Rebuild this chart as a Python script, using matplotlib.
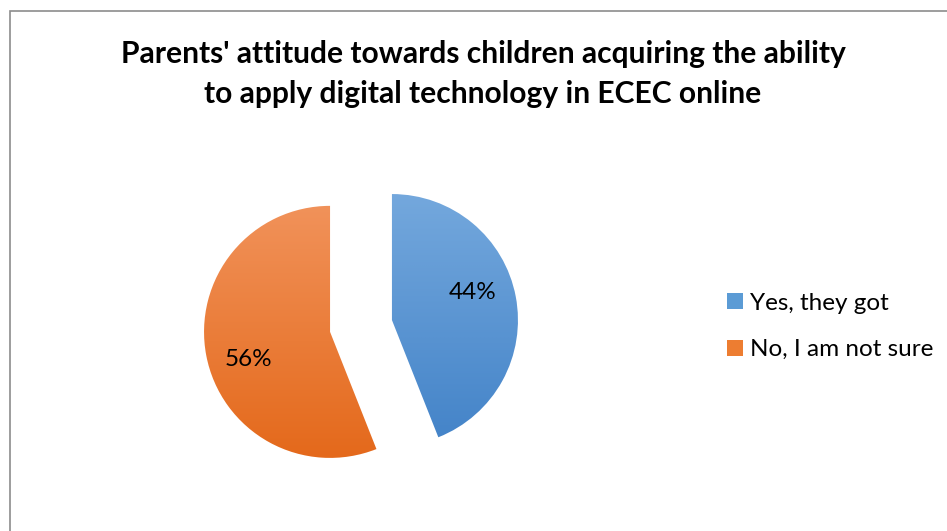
import numpy as np
import matplotlib
matplotlib.use("Agg")
import matplotlib.pyplot as plt
from matplotlib.patches import Rectangle, Patch
from matplotlib.colors import LinearSegmentedColormap

# survey answers
labels = ["Yes, they got", "No, I am not sure"]
shares = [44, 56]
top_colors = ["#74a8dd", "#f1925a"]
bottom_colors = ["#4383c8", "#e4691b"]
legend_colors = ["#5b9bd5", "#ed7d31"]

title = ("Parents' attitude towards children acquiring the ability\n"
         "to apply digital technology in ECEC online")

plt.rcParams['font.family'] = ['Lato', 'DejaVu Sans']

fig = plt.figure(figsize=(9.47, 5.31), dpi=100)

# chart frame
fig.patches.append(Rectangle((9.5 / 947, -0.05), 1.0, 1.05 - 10.5 / 531,
                             transform=fig.transFigure, fill=False,
                             edgecolor="#8c8c8c", linewidth=1.2))

fig.text(0.51, 0.86, title, ha="center", va="center", fontsize=21.6,
         fontweight="bold", linespacing=1.53)

ax = fig.add_axes([0.1816, 0.0301, 0.3992, 0.712])
wedges, texts, autotexts = ax.pie(
    shares, startangle=90, counterclock=False, explode=[0.25, 0.25],
    autopct="%1.0f%%", textprops=dict(fontsize=17.5, color="black"),
    wedgeprops=dict(linewidth=0))
ax.set_aspect("equal")
ax.axis("off")

# vertical gradient fill for each slice, percent labels turned a little off mid-angle
grad = np.linspace(1, 0, 256).reshape(-1, 1)
for w, t, c0, c1 in zip(wedges, autotexts, top_colors, bottom_colors):
    w.set_facecolor("none")
    cx, cy = w.center
    cmap = LinearSegmentedColormap.from_list("g", [c1, c0])
    im = ax.imshow(grad, cmap=cmap, aspect="auto", interpolation="bilinear",
                   extent=[cx - 1, cx + 1, cy - 1, cy + 1], zorder=0.5)
    im.set_clip_path(w)
    ang = np.deg2rad((w.theta1 + w.theta2) / 2 + 8)
    t.set_position((cx + 0.68 * np.cos(ang), cy + 0.68 * np.sin(ang)))
ax.set_xlim(-1.5, 1.5)
ax.set_ylim(-1.5, 1.5)

handles = [Patch(facecolor=c, edgecolor="none") for c in legend_colors]
fig.legend(handles, labels, loc="center left", bbox_to_anchor=(0.745, 0.385),
           frameon=False, fontsize=17.5, handlelength=0.65, handleheight=0.65,
           handletextpad=0.3, labelspacing=1.05)

fig.savefig("out.png", dpi=100)
